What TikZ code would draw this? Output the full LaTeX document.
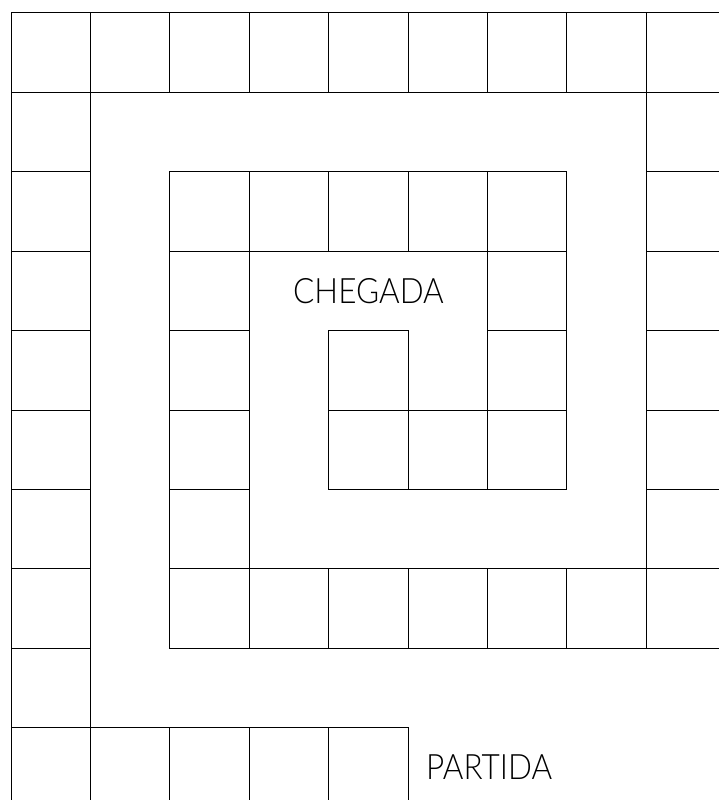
\documentclass[tikz,border=0pt]{standalone}
\usepackage{fontspec}
\setmainfont{Lato}[UprightFont=* Light, FakeStretch=0.9]
\begin{document}
\begin{tikzpicture}[x=1pt,y=-1pt,
  cell/.style={draw=black, line width=1pt, minimum size=79.4pt, inner sep=0pt, outer sep=0pt, anchor=north west},
  lbl/.style={font=\fontsize{35}{42}\selectfont, inner sep=0pt, anchor=base west}]
\useasboundingbox (0,0) rectangle (719,800);
\clip (0,0) rectangle (719,800);
\foreach \i/\j in {0/0,1/0,2/0,3/0,4/0,5/0,6/0,7/0,8/0,
  0/1,0/2,0/3,0/4,0/5,0/6,0/7,0/8,0/9,
  8/1,8/2,8/3,8/4,8/5,8/6,8/7,
  1/9,2/9,3/9,4/9,
  2/7,3/7,4/7,5/7,6/7,7/7,
  2/2,2/3,2/4,2/5,2/6,
  3/2,4/2,5/2,6/2,
  6/3,6/4,6/5,
  4/5,5/5,
  4/4}
  \node[cell] (c\i-\j) at ({11+79.4*\i},{13+79.4*\j}) {};
\node[lbl] (chegada) at (293,303) {CHEGADA};
\node[lbl] (partida) at (426,779) {PARTIDA};
\end{tikzpicture}
\end{document}
